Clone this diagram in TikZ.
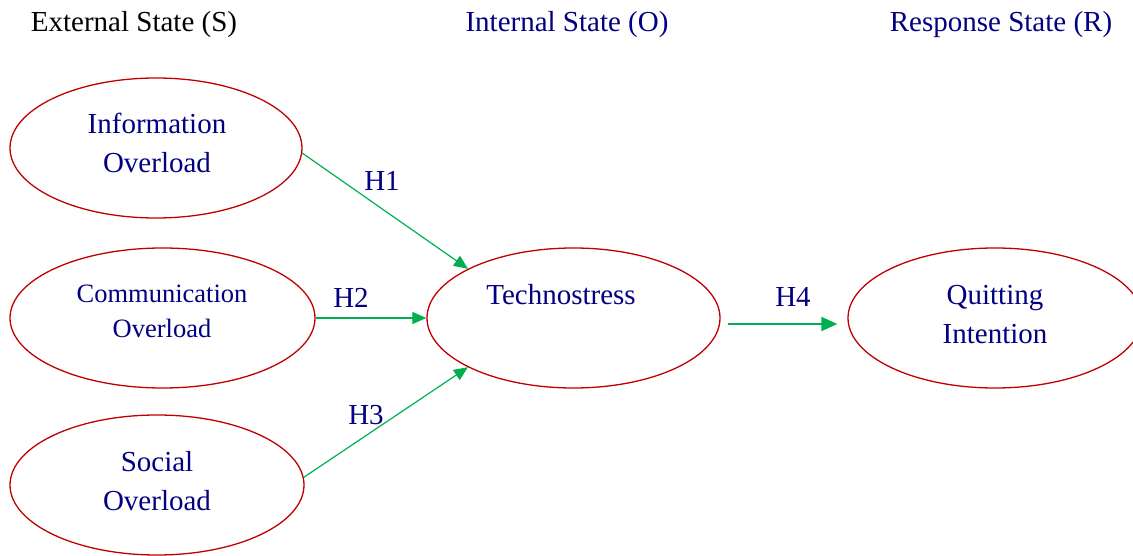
\documentclass[tikz,border=0pt]{standalone}
\usepackage{fontspec}
\setmainfont{Liberation Serif}
\usetikzlibrary{shapes.geometric,arrows.meta}
\definecolor{navytxt}{RGB}{0,0,128}
\definecolor{ellred}{RGB}{192,0,0}
\definecolor{arrgreen}{RGB}{0,176,80}
\tikzset{
  oval/.style={ellipse,draw=ellred,line width=1.3pt,inner sep=0pt,minimum width=#1,minimum height=140pt},
  txt/.style={anchor=base,inner sep=0pt,text=navytxt,font=\fontsize{29}{35}\selectfont},
  smalltxt/.style={txt,font=\fontsize{26.5}{32}\selectfont},
  hdr/.style={txt},
  hyp/.style={draw=arrgreen,line width=1.2pt,-{Triangle[length=14pt,width=12pt]},arrgreen},
  hyptwo/.style={draw=arrgreen,line width=2pt,-{Triangle[length=16pt,width=14pt]},arrgreen},
}
\begin{document}
\begin{tikzpicture}[x=1pt,y=-1pt]
\useasboundingbox (0,0) rectangle (1133,556);
% headers
\node[hdr,text=black] (hS) at (134,32) {External State (S)};
\node[hdr] (hO) at (567,32) {Internal State (O)};
\node[hdr] (hR) at (1001,32) {Response State (R)};
% ellipses
\node[oval=292pt] (info) at (156,148) {};
\node[oval=305pt] (comm) at (162.5,318) {};
\node[oval=294pt] (soc) at (157,485) {};
\node[oval=293pt] (tech) at (573.5,318) {};
\node[oval=294pt] (qi) at (995,318) {};
% texts
\node[txt] (info1) at (157,134) {Information};
\node[txt] (info2) at (157,173) {Overload};
\node[smalltxt] (comm1) at (162,302) {Communication};
\node[smalltxt] (comm2) at (162,337) {Overload};
\node[txt] (soc1) at (157,471) {Social};
\node[txt] (soc2) at (157,510) {Overload};
\node[txt] (tech1) at (561,305) {Technostress};
\node[txt] (qi1) at (995,305) {Quitting};
\node[txt] (qi2) at (995,343) {Intention};
% arrows
\draw[hyp] (info.-2.5) -- (tech.155);
\draw[hyp] (comm.east) -- (tech.west);
\draw[hyp] (soc.3) -- (tech.205);
\draw[hyptwo] ([xshift=7pt,yshift=-6pt]tech.east) -- ([xshift=-10pt,yshift=-6pt]qi.west);
% hypothesis labels
\node[txt] (h1) at (382,191) {H1};
\node[txt] (h2) at (351,307) {H2};
\node[txt] (h3) at (366,424) {H3};
\node[txt] (h4) at (793,306) {H4};
\end{tikzpicture}
\end{document}
